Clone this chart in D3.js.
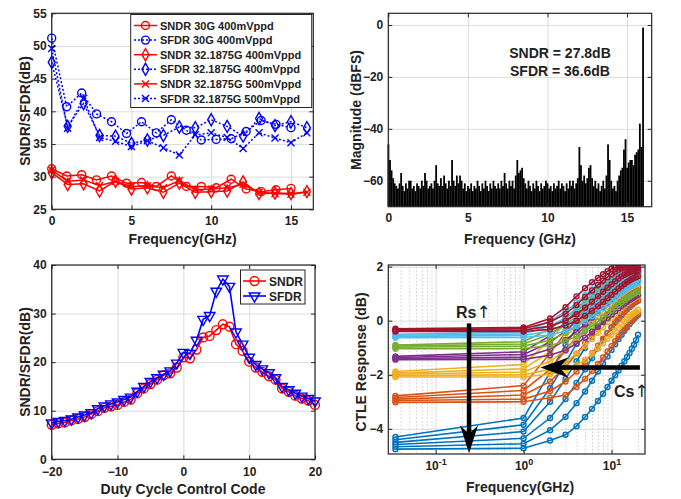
<!DOCTYPE html>
<meta charset="utf-8">
<style>
    body { margin: 0; background: #fff; }
    svg text { font-family: "Liberation Sans", Arial, sans-serif; font-weight: bold; fill: #222; }
    .grid line { stroke: #dcdcdc; stroke-width: 1; }
    .grid .domain { display: none; }
    .minor line { stroke: #cfcfcf; stroke-dasharray: 1.5,2; }
    .ax .domain { display: none; }
    .ax line { stroke: #262626; }
</style>
<script src="https://d3js.org/d3.v7.min.js"></script>

<body>
    <div id="chart"></div>
    <script>
        // ---- top left: SNDR / SFDR vs input frequency ----
        var fin30 = [0, 0.94, 1.88, 2.81, 3.75, 4.69, 5.63, 6.56, 7.5, 8.44, 9.38, 10.31, 11.25, 12.19, 13.13, 14.06, 15.0];
        var fin32 = [0, 1, 2, 3, 4, 5, 6, 7, 8, 9, 10, 11, 12, 13, 14, 15, 16];
        var sndr30 = [31.2, 30.1, 30.3, 29.5, 30.1, 29.0, 29.1, 28.5, 30.1, 28.5, 28.5, 28.3, 29.6, 28.1, 27.7, 28.0, 28.2];
        var sfdr30 = [51.2, 40.7, 42.8, 39.6, 38.4, 36.6, 38.4, 36.7, 38.7, 37.1, 35.6, 35.7, 35.8, 36.9, 38.6, 38.0, 37.5];
        var sndr32a = [30.6, 28.8, 28.9, 27.8, 29.3, 28.1, 28.3, 27.6, 29.0, 27.6, 27.7, 27.8, 29.2, 27.4, 27.5, 27.4, 27.7];
        var sfdr32a = [47.5, 37.7, 41.2, 36.3, 36.2, 35.1, 35.6, 36.3, 37.6, 37.5, 38.7, 37.7, 36.2, 38.9, 37.8, 38.4, 37.5];
        var sndr32b = [31.0, 29.3, 29.5, 28.6, 29.3, 28.5, 28.6, 28.3, 29.4, 28.0, 28.1, 28.3, 28.8, 27.6, 27.4, 27.3, 27.6];
        var sfdr32b = [49.6, 37.4, 42.0, 36.0, 35.4, 34.6, 35.5, 34.4, 33.3, 36.4, 36.7, 36.0, 34.3, 36.7, 35.9, 35.2, 36.7];
        var legend1 = ["SNDR 30G 400mVppd", "SFDR 30G 400mVppd", "SNDR 32.1875G 400mVppd",
            "SFDR 32.1875G 400mVppd", "SNDR 32.1875G 500mVppd", "SFDR 32.1875G 500mVppd"];

        // ---- top right: output spectrum, one value per 0.1 GHz ----
        var specStep = 0.1;
        var spectrum = [-46, -52, -56, -59, -61, -62, -63, -61, -57, -62,
            -64, -61, -63, -60, -60, -63, -62, -64, -61, -62,
            -63, -60, -62, -57, -60, -63, -62, -61, -63, -60,
            -54, -61, -62, -59, -62, -58, -61, -63, -60, -62,
            -52, -60, -62, -58, -61, -58, -60, -63, -61, -64,
            -62, -63, -61, -64, -62, -63, -60, -62, -64, -61,
            -63, -60, -62, -64, -61, -63, -60, -62, -63, -61,
            -63, -60, -62, -57, -61, -63, -60, -62, -60, -63,
            -58, -52, -57, -56, -55, -59, -61, -63, -60, -62,
            -64, -61, -63, -60, -62, -64, -61, -63, -62, -60,
            -61, -63, -62, -64, -61, -63, -62, -60, -63, -61,
            -62, -64, -61, -63, -60, -62, -60, -63, -61, -59,
            -47, -54, -60, -58, -61, -59, -55, -54, -59, -62,
            -60, -63, -61, -64, -62, -60, -63, -58, -46, -52,
            -60, -63, -62, -64, -60, -58, -56, -55, -48, -44,
            -55, -53, -52, -52, -54, -50, -49, -48, -38, -47, -1];

        // ---- bottom left: duty cycle sweep ----
        var codes = [-20, -19, -18, -17, -16, -15, -14, -13, -12, -11, -10, -9, -8, -7, -6, -5, -4, -3, -2, -1,
            0, 1, 2, 3, 4, 5, 6, 7, 8, 9, 10, 11, 12, 13, 14, 15, 16, 17, 18, 19, 20];
        var dccSndr = [7.1, 7.4, 7.6, 8.0, 8.3, 8.7, 9.3, 9.9, 10.6, 10.9, 11.2, 11.8, 12.3, 13.6, 14.6, 15.5, 16.4, 17.3, 17.7, 18.9,
            21.0, 20.8, 22.6, 25.1, 25.4, 26.6, 27.8, 27.3, 23.7, 22.3, 20.1, 18.9, 18.0, 17.1, 16.4, 14.6, 13.9, 13.1, 12.5, 12.1, 11.2];
        var dccSfdr = [7.5, 7.8, 8.0, 8.3, 8.7, 9.1, 9.6, 10.4, 11.0, 11.4, 11.8, 12.3, 12.8, 14.0, 15.0, 16.0, 16.8, 17.5, 18.2, 19.8,
            22.0, 21.8, 24.5, 28.8, 29.6, 34.6, 37.1, 35.6, 26.2, 23.7, 21.0, 19.5, 18.6, 17.8, 16.8, 15.0, 14.3, 13.6, 13.0, 12.5, 12.0];

        // ---- bottom right: CTLE responses, one group per Rs setting, one row per Cs ----
        var ctleFreq = [0.035, 1, 2, 3, 4, 5, 6, 7, 8, 9, 10, 11, 12, 13, 14, 15, 16, 17, 18, 19, 20];
        var ctleBlue = [
            [-4.30, -3.60, -1.90, -0.90, -0.25, 0.20, 0.52, 0.76, 0.95, 1.10, 1.22, 1.32, 1.40, 1.47, 1.53, 1.58, 1.62, 1.66, 1.69, 1.72, 1.75],
            [-4.40, -3.85, -2.50, -1.55, -0.85, -0.35, 0.02, 0.30, 0.52, 0.70, 0.84, 0.96, 1.06, 1.14, 1.21, 1.27, 1.32, 1.36, 1.40, 1.43, 1.45],
            [-4.50, -4.10, -3.00, -2.15, -1.50, -1.00, -0.60, -0.28, -0.02, 0.20, 0.38, 0.52, 0.64, 0.74, 0.82, 0.89, 0.95, 1.00, 1.04, 1.08, 1.10],
            [-4.58, -4.35, -3.60, -2.90, -2.30, -1.80, -1.38, -1.02, -0.72, -0.46, -0.24, -0.06, 0.10, 0.23, 0.34, 0.44, 0.52, 0.59, 0.65, 0.70, 0.74],
            [-4.66, -4.55, -4.05, -3.55, -3.05, -2.62, -2.22, -1.88, -1.58, -1.32, -1.08, -0.87, -0.68, -0.52, -0.37, -0.24, -0.12, -0.02, 0.07, 0.15, 0.22],
            [-4.75, -4.72, -4.43, -4.22, -3.90, -3.56, -3.26, -2.97, -2.70, -2.45, -2.22, -2.02, -1.84, -1.66, -1.50, -1.34, -1.19, -1.04, -0.89, -0.72, -0.52]
        ];
        var ctleOrange = [
            [-2.78, -2.40, -1.20, -0.45, 0.05, 0.40, 0.66, 0.86, 1.02, 1.15, 1.26, 1.35, 1.43, 1.50, 1.56, 1.61, 1.65, 1.69, 1.72, 1.75, 1.78],
            [-2.84, -2.58, -1.80, -1.10, -0.58, -0.18, 0.13, 0.38, 0.58, 0.75, 0.89, 1.01, 1.11, 1.20, 1.27, 1.33, 1.38, 1.43, 1.47, 1.50, 1.53],
            [-2.90, -2.75, -2.25, -1.70, -1.22, -0.82, -0.48, -0.20, 0.04, 0.24, 0.41, 0.56, 0.68, 0.79, 0.88, 0.96, 1.03, 1.09, 1.14, 1.18, 1.22],
            [-2.95, -2.90, -2.60, -2.25, -1.88, -1.52, -1.20, -0.92, -0.67, -0.45, -0.26, -0.09, 0.06, 0.19, 0.31, 0.41, 0.50, 0.58, 0.65, 0.71, 0.76],
            [-3.02, -3.00, -2.85, -2.75, -2.45, -2.15, -1.86, -1.60, -1.36, -1.14, -0.94, -0.76, -0.60, -0.45, -0.32, -0.20, -0.09, 0.01, 0.10, 0.18, 0.25]
        ];
        var ctleYellow = [
            [-1.88, -1.62, -0.70, -0.10, 0.30, 0.60, 0.83, 1.00, 1.14, 1.26, 1.36, 1.44, 1.51, 1.57, 1.62, 1.66, 1.70, 1.73, 1.76, 1.79, 1.82],
            [-1.94, -1.78, -1.15, -0.60, -0.18, 0.15, 0.42, 0.63, 0.81, 0.96, 1.08, 1.18, 1.27, 1.35, 1.42, 1.47, 1.52, 1.56, 1.60, 1.63, 1.66],
            [-1.98, -1.90, -1.50, -1.08, -0.70, -0.38, -0.10, 0.14, 0.34, 0.51, 0.66, 0.79, 0.90, 1.00, 1.08, 1.15, 1.21, 1.26, 1.30, 1.34, 1.38],
            [-2.03, -2.00, -1.80, -1.52, -1.22, -0.94, -0.68, -0.45, -0.24, -0.06, 0.10, 0.24, 0.36, 0.47, 0.57, 0.65, 0.72, 0.78, 0.84, 0.89, 0.93],
            [-2.08, -2.08, -1.98, -1.85, -1.65, -1.44, -1.22, -1.02, -0.84, -0.67, -0.52, -0.38, -0.25, -0.13, -0.03, 0.06, 0.14, 0.21, 0.28, 0.34, 0.40]
        ];
        var ctlePurple = [
            [-1.32, -1.15, -0.55, -0.05, 0.35, 0.66, 0.90, 1.09, 1.24, 1.36, 1.46, 1.54, 1.61, 1.67, 1.72, 1.76, 1.80, 1.83, 1.86, 1.88, 1.90],
            [-1.36, -1.25, -0.80, -0.38, 0.00, 0.30, 0.55, 0.76, 0.93, 1.07, 1.19, 1.29, 1.38, 1.45, 1.51, 1.56, 1.61, 1.65, 1.68, 1.71, 1.74],
            [-1.40, -1.35, -1.05, -0.72, -0.40, -0.12, 0.12, 0.33, 0.51, 0.67, 0.80, 0.92, 1.02, 1.11, 1.19, 1.26, 1.32, 1.37, 1.41, 1.45, 1.48],
            [-1.44, -1.43, -1.28, -1.08, -0.85, -0.62, -0.41, -0.22, -0.05, 0.10, 0.23, 0.35, 0.46, 0.55, 0.63, 0.70, 0.77, 0.82, 0.87, 0.92, 0.96]
        ];
        var ctleGreen = [
            [-0.90, -0.78, -0.30, 0.12, 0.46, 0.74, 0.96, 1.14, 1.29, 1.41, 1.51, 1.59, 1.66, 1.72, 1.77, 1.81, 1.85, 1.88, 1.91, 1.93, 1.95],
            [-0.94, -0.86, -0.50, -0.15, 0.17, 0.44, 0.67, 0.86, 1.02, 1.16, 1.28, 1.38, 1.46, 1.53, 1.59, 1.64, 1.69, 1.73, 1.76, 1.79, 1.82],
            [-0.98, -0.94, -0.72, -0.45, -0.18, 0.07, 0.29, 0.48, 0.65, 0.80, 0.93, 1.04, 1.14, 1.23, 1.31, 1.38, 1.44, 1.49, 1.53, 1.57, 1.60],
            [-1.04, -1.03, -0.92, -0.76, -0.57, -0.38, -0.20, -0.03, 0.12, 0.26, 0.38, 0.49, 0.59, 0.68, 0.76, 0.83, 0.89, 0.95, 1.00, 1.04, 1.08]
        ];
        var ctleLightBlue = [
            [-0.50, -0.42, -0.02, 0.35, 0.67, 0.94, 1.16, 1.34, 1.49, 1.62, 1.72, 1.81, 1.88, 1.94, 1.99, 2.03, 2.06, 2.09, 2.11, 2.13, 2.15],
            [-0.54, -0.49, -0.20, 0.10, 0.39, 0.64, 0.86, 1.05, 1.21, 1.35, 1.47, 1.57, 1.65, 1.72, 1.78, 1.83, 1.87, 1.91, 1.94, 1.97, 1.99],
            [-0.58, -0.55, -0.38, -0.15, 0.08, 0.31, 0.52, 0.71, 0.88, 1.02, 1.15, 1.26, 1.36, 1.44, 1.51, 1.57, 1.62, 1.67, 1.71, 1.74, 1.77],
            [-0.63, -0.62, -0.53, -0.38, -0.20, -0.02, 0.16, 0.32, 0.47, 0.61, 0.73, 0.84, 0.94, 1.03, 1.11, 1.18, 1.24, 1.29, 1.34, 1.38, 1.42]
        ];
        var ctleRed = [
            [-0.30, -0.25, 0.08, 0.50, 0.90, 1.20, 1.42, 1.58, 1.72, 1.83, 1.92, 1.98, 2.03, 2.05, 2.06, 2.05, 2.04, 2.02, 2.00, 1.98, 1.95],
            [-0.33, -0.30, -0.05, 0.25, 0.58, 0.88, 1.12, 1.32, 1.48, 1.61, 1.72, 1.81, 1.88, 1.93, 1.96, 1.98, 1.99, 1.99, 1.98, 1.97, 1.95],
            [-0.36, -0.35, -0.20, 0.00, 0.24, 0.48, 0.70, 0.90, 1.07, 1.22, 1.35, 1.46, 1.56, 1.64, 1.70, 1.75, 1.79, 1.82, 1.84, 1.85, 1.86],
            [-0.40, -0.40, -0.32, -0.18, 0.00, 0.18, 0.36, 0.53, 0.69, 0.83, 0.96, 1.08, 1.19, 1.28, 1.36, 1.43, 1.49, 1.54, 1.58, 1.62, 1.65]
        ];
        var ctleGroups = [ctleBlue, ctleOrange, ctleYellow, ctlePurple, ctleGreen, ctleLightBlue, ctleRed];
        var ctleColors = ["#0072BD", "#D95319", "#EDB120", "#7E2F8E", "#77AC30", "#4DBEEE", "#A2142F"];

        var svg = d3.select("#chart").append("svg")
            .attr("width", 681)
            .attr("height", 499);

        function grid(x, y, xTicks, yTicks) {
            var L = x.range()[0], R = x.range()[1], B = y.range()[0], T = y.range()[1];
            svg.append("g").attr("class", "grid")
                .attr("transform", "translate(0," + B + ")")
                .call(d3.axisBottom(x).tickValues(xTicks).tickSize(-(B - T)).tickFormat(""));
            svg.append("g").attr("class", "grid")
                .attr("transform", "translate(" + L + ",0)")
                .call(d3.axisLeft(y).tickValues(yTicks).tickSize(-(R - L)).tickFormat(""));
        }

        function axes(x, y, xTicks, yTicks, xFmt, xPad) {
            var L = x.range()[0], R = x.range()[1], B = y.range()[0], T = y.range()[1];
            var bx = svg.append("g").attr("class", "ax")
                .attr("transform", "translate(0," + B + ")")
                .call(d3.axisBottom(x).tickValues(xTicks).tickSizeInner(-4).tickSizeOuter(0).tickPadding(xPad || 7)
                    .tickFormat(xFmt || d3.format("d")));
            svg.append("g").attr("class", "ax")
                .attr("transform", "translate(0," + T + ")")
                .call(d3.axisTop(x).tickValues(xTicks).tickSizeInner(-4).tickSizeOuter(0).tickFormat(""));
            svg.append("g").attr("class", "ax")
                .attr("transform", "translate(" + L + ",0)")
                .call(d3.axisLeft(y).tickValues(yTicks).tickSizeInner(-4).tickSizeOuter(0).tickPadding(5)
                    .tickFormat(d3.format("d")));
            svg.append("g").attr("class", "ax")
                .attr("transform", "translate(" + R + ",0)")
                .call(d3.axisRight(y).tickValues(yTicks).tickSizeInner(-4).tickSizeOuter(0).tickFormat(""));
            svg.selectAll(".ax").attr("font-size", 12).attr("font-family", null);
            svg.append("rect")
                .attr("x", L).attr("y", T)
                .attr("width", R - L).attr("height", B - T)
                .attr("fill", "none").attr("stroke", "#262626").attr("stroke-width", 1.2);
            return bx;
        }

        function label(text, x, y, rotate) {
            svg.append("text")
                .attr("transform", "translate(" + x + "," + y + ")" + (rotate ? " rotate(-90)" : ""))
                .attr("text-anchor", "middle")
                .attr("font-size", 14)
                .text(text);
        }

        // ================= top left =================
        var x1 = d3.scaleLinear().domain([0, 16.4]).range([51.7, 313.3]),
            y1 = d3.scaleLinear().domain([25, 55]).range([209.3, 13.3]);
        grid(x1, y1, [0, 5, 10, 15], [25, 30, 35, 40, 45, 50, 55]);

        var sym = {
            circle: d3.symbol().type(d3.symbolCircle).size(50),
            diamond: d3.symbol().type(d3.symbolDiamond).size(42),
            cross: d3.symbol().type(d3.symbolTimes).size(34)
        };
        var series1 = [
            { xs: fin30, ys: sndr30, c: "#ff0000", dash: null, m: "circle" },
            { xs: fin30, ys: sfdr30, c: "#0000ff", dash: "2,2", m: "circle" },
            { xs: fin32, ys: sndr32a, c: "#ff0000", dash: null, m: "diamond" },
            { xs: fin32, ys: sfdr32a, c: "#0000ff", dash: "2,2", m: "diamond" },
            { xs: fin32, ys: sndr32b, c: "#ff0000", dash: null, m: "cross" },
            { xs: fin32, ys: sfdr32b, c: "#0000ff", dash: "2,2", m: "cross" }
        ];
        var line1 = d3.line().x(d => x1(d[0])).y(d => y1(d[1]));
        series1.forEach(function(s) {
            var pts = d3.zip(s.xs, s.ys);
            svg.append("path").datum(pts)
                .attr("d", line1).attr("fill", "none")
                .attr("stroke", s.c).attr("stroke-width", 1.5)
                .attr("stroke-dasharray", s.dash);
            svg.append("g").selectAll("path").data(pts).join("path")
                .attr("transform", d => "translate(" + x1(d[0]) + "," + y1(d[1]) + ")")
                .attr("d", sym[s.m]).attr("fill", "none")
                .attr("stroke", s.c).attr("stroke-width", 1.4);
        });
        axes(x1, y1, [0, 5, 10, 15], [25, 30, 35, 40, 45, 50, 55]);
        label("Frequency(GHz)", 182.5, 244, false);
        label("SNDR/SFDR(dB)", 30, 111, true);

        // legend
        var lg1 = svg.append("g");
        lg1.append("rect").attr("x", 130.7).attr("y", 14.5).attr("width", 181).attr("height", 93)
            .attr("fill", "#fff").attr("stroke", "#262626").attr("stroke-width", 1);
        series1.forEach(function(s, i) {
            var yy = 25.5 + i * 14.6;
            lg1.append("line").attr("x1", 134).attr("x2", 157).attr("y1", yy).attr("y2", yy)
                .attr("stroke", s.c).attr("stroke-width", 1.5).attr("stroke-dasharray", s.dash);
            lg1.append("path").attr("transform", "translate(145.5," + yy + ")")
                .attr("d", sym[s.m]).attr("fill", "none").attr("stroke", s.c).attr("stroke-width", 1.4);
            lg1.append("text").attr("x", 160).attr("y", yy + 4).attr("font-size", 11).text(legend1[i]);
        });

        // ================= top right =================
        var x2 = d3.scaleLinear().domain([0, 16.55]).range([388.3, 651.7]),
            y2 = d3.scaleLinear().domain([-70, 4.5]).range([206.7, 13.3]);
        grid(x2, y2, [0, 5, 10, 15], [-60, -40, -20, 0]);
        var bw = x2(specStep) - x2(0);
        svg.append("g").selectAll("rect").data(spectrum).join("rect")
            .attr("x", (d, i) => x2(i * specStep) - bw / 2)
            .attr("width", bw + 0.2)
            .attr("y", d => y2(d))
            .attr("height", d => y2(-70) - y2(d))
            .attr("fill", "#000");
        axes(x2, y2, [0, 5, 10, 15], [-60, -40, -20, 0]);
        label("Frequency (GHz)", 520, 244, false);
        label("Magnitude (dBFS)", 361, 110, true);
        svg.append("text").attr("x", 560).attr("y", 58).attr("text-anchor", "middle")
            .attr("font-size", 14).text("SNDR = 27.8dB");
        svg.append("text").attr("x", 560).attr("y", 76).attr("text-anchor", "middle")
            .attr("font-size", 14).text("SFDR = 36.6dB");

        // ================= bottom left =================
        var x3 = d3.scaleLinear().domain([-20, 20]).range([51.7, 315]),
            y3 = d3.scaleLinear().domain([0, 40]).range([459.3, 265]);
        grid(x3, y3, [-20, -10, 0, 10, 20], [0, 10, 20, 30, 40]);
        var tri = d3.symbol().type(d3.symbolTriangle).size(48);
        var circ3 = d3.symbol().type(d3.symbolCircle).size(62);
        var line3 = d3.line().x(d => x3(d[0])).y(d => y3(d[1]));
        [{ ys: dccSndr, c: "#ff0000" }, { ys: dccSfdr, c: "#0000ff" }].forEach(function(s, k) {
            var pts = d3.zip(codes, s.ys);
            svg.append("path").datum(pts).attr("d", line3).attr("fill", "none")
                .attr("stroke", s.c).attr("stroke-width", 1.6);
            svg.append("g").selectAll("path").data(pts).join("path")
                .attr("transform", d => "translate(" + x3(d[0]) + "," + y3(d[1]) + ")" + (k ? " rotate(180)" : ""))
                .attr("d", k ? tri : circ3).attr("fill", "none")
                .attr("stroke", s.c).attr("stroke-width", 1.4);
        });
        axes(x3, y3, [-20, -10, 0, 10, 20], [0, 10, 20, 30, 40], null, 8.5);
        label("Duty Cycle Control Code", 183, 494, false);
        label("SNDR/SFDR(dB)", 30, 362, true);

        var lg3 = svg.append("g");
        lg3.append("rect").attr("x", 240.5).attr("y", 270).attr("width", 64.5).attr("height", 34)
            .attr("fill", "#fff").attr("stroke", "#262626").attr("stroke-width", 1);
        [["SNDR", "#ff0000", circ3, ""], ["SFDR", "#0000ff", tri, " rotate(180)"]].forEach(function(e, i) {
            var yy = 281 + i * 15;
            lg3.append("line").attr("x1", 243).attr("x2", 266).attr("y1", yy).attr("y2", yy)
                .attr("stroke", e[1]).attr("stroke-width", 1.6);
            lg3.append("path").attr("transform", "translate(254.5," + yy + ")" + e[3])
                .attr("d", e[2]).attr("fill", "none").attr("stroke", e[1]).attr("stroke-width", 1.4);
            lg3.append("text").attr("x", 269).attr("y", yy + 4.5).attr("font-size", 12).text(e[0]);
        });

        // ================= bottom right =================
        var x4 = d3.scaleLog().domain([0.029, 24]).range([388.3, 645]),
            y4 = d3.scaleLinear().domain([-4.93, 2.06]).range([454, 265]);
        var minor = [0.03, 0.04, 0.05, 0.06, 0.07, 0.08, 0.09, 0.2, 0.3, 0.4, 0.5, 0.6, 0.7, 0.8, 0.9,
            2, 3, 4, 5, 6, 7, 8, 9, 20];
        svg.append("g").attr("class", "grid minor")
            .attr("transform", "translate(0,454)")
            .call(d3.axisBottom(x4).tickValues(minor).tickSize(-189).tickFormat(""));
        grid(x4, y4, [0.1, 1, 10], [-4, -2, 0, 2]);

        svg.append("defs").append("clipPath").attr("id", "clip4")
            .append("rect").attr("x", 388.3).attr("y", 265).attr("width", 256.7).attr("height", 189);
        var plot4 = svg.append("g").attr("clip-path", "url(#clip4)");
        var line4 = d3.line().x((d, i) => x4(ctleFreq[i])).y(d => y4(d));
        ctleGroups.forEach(function(group, gi) {
            group.forEach(function(curve) {
                plot4.append("path").datum(curve).attr("d", line4).attr("fill", "none")
                    .attr("stroke", ctleColors[gi]).attr("stroke-width", 1.6);
                plot4.append("g").selectAll("circle").data(curve).join("circle")
                    .attr("cx", (d, i) => x4(ctleFreq[i])).attr("cy", d => y4(d)).attr("r", 2.5)
                    .attr("fill", "none").attr("stroke", ctleColors[gi]).attr("stroke-width", 1.4);
            });
        });

        // Rs arrow (down) and Cs arrow (left)
        var ax = x4(0.24), ayTop = y4(-0.1), ayTip = y4(-4.9);
        svg.append("line").attr("x1", ax).attr("x2", ax).attr("y1", ayTop).attr("y2", ayTip - 18)
            .attr("stroke", "#000").attr("stroke-width", 4.5);
        svg.append("path")
            .attr("d", "M" + ax + "," + ayTip + "L" + (ax - 9) + "," + (ayTip - 28) + "L" + ax + "," + (ayTip - 19) +
                "L" + (ax + 9) + "," + (ayTip - 28) + "Z")
            .attr("fill", "#000");
        var hy = y4(-1.73), hx0 = x4(21), hxTip = x4(1.55);
        svg.append("line").attr("x1", hx0).attr("x2", hxTip + 18).attr("y1", hy).attr("y2", hy)
            .attr("stroke", "#000").attr("stroke-width", 4.5);
        svg.append("path")
            .attr("d", "M" + hxTip + "," + hy + "L" + (hxTip + 28) + "," + (hy - 10) + "L" + (hxTip + 19) + "," + hy +
                "L" + (hxTip + 28) + "," + (hy + 10) + "Z")
            .attr("fill", "#000");
        var rs = svg.append("text").attr("x", 456).attr("y", 318).attr("font-size", 16).text("Rs");
        rs.append("tspan").attr("font-family", "DejaVu Sans").attr("font-weight", "normal")
            .attr("font-size", 17).attr("dx", 0).text("\u2191");
        var cs = svg.append("text").attr("x", 614).attr("y", 397).attr("font-size", 16).text("Cs");
        cs.append("tspan").attr("font-family", "DejaVu Sans").attr("font-weight", "normal")
            .attr("font-size", 17).text("\u2191");

        var bx4 = axes(x4, y4, [0.1, 1, 10], [-4, -2, 0, 2], function() { return ""; });
        bx4.selectAll(".tick text").each(function(d) {
            var t = d3.select(this);
            t.text("10");
            t.append("tspan").attr("dy", "-0.45em").attr("font-size", 9).text(Math.round(Math.log10(d)));
        });
        label("Frequency(GHz)", 520, 492, false);
        label("CTLE Response (dB)", 366, 362, true);
    </script>
</body>
